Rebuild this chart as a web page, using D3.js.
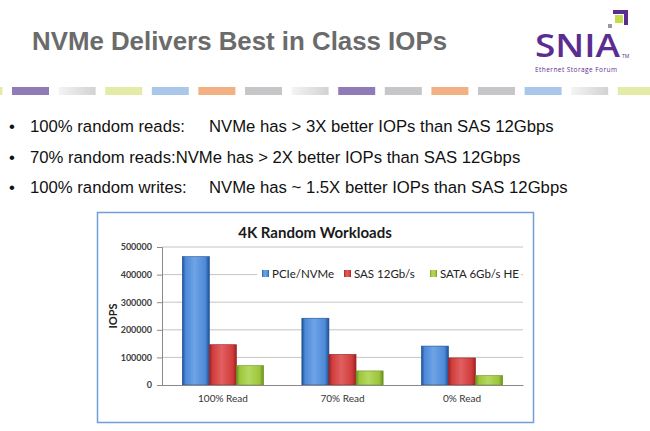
<!DOCTYPE html>
<html>
<head>
<meta charset="utf-8">
<script src="https://cdn.jsdelivr.net/npm/d3@7"></script>
<style>
  body { margin: 0; background: #fff; }
  svg { display: block; }
</style>
</head>
<body>
<div id="chartContainer"></div>
<script>
// Chart data
const categories = ["100% Read", "70% Read", "0% Read"];
const seriesNames = ["PCIe/NVMe", "SAS 12Gb/s", "SATA 6Gb/s HE"];
const nvmeValues = [465000, 242000, 141000];
const sasValues = [146000, 111000, 98000];
const sataValues = [70000, 51000, 34000];
const yTicks = [0, 100000, 200000, 300000, 400000, 500000];

// Slide text
const bulletLeft = ["100% random reads:", "70% random reads:NVMe has > 2X better IOPs than SAS 12Gbps", "100% random writes:"];
const bulletRight = ["NVMe has > 3X better IOPs than SAS 12Gbps", "", "NVMe has ~ 1.5X better IOPs than SAS 12Gbps"];
const dashColors = ["#e3eba6", "#8f7bb6", "light", "#e3eba6", "#a9c8e9", "#f2b183", "#c6c6c8", "light", "#8f7bb6", "#c6c6c8", "#f2b183", "#c6c6c8", "#a9c8e9", "light", "#e3eba6"];

const W = 650, H = 431;
const svg = d3.select("#chartContainer")
  .append("svg")
  .attr("width", W)
  .attr("height", H);

const defs = svg.append("defs");

// gradients for the 3D-ish bars
const barColors = [
  { id: "gBlue", dark: "#1f4f93", mid: "#4d8ad8", light: "#6ea3e6" },
  { id: "gRed", dark: "#9b2222", mid: "#d23c3c", light: "#e06060" },
  { id: "gGreen", dark: "#6a8f1e", mid: "#9cc63a", light: "#b5d860" }
];
barColors.forEach(c => {
  const g = defs.append("linearGradient").attr("id", c.id)
    .attr("x1", "0%").attr("x2", "100%").attr("y1", "0%").attr("y2", "0%");
  g.append("stop").attr("offset", "0%").attr("stop-color", c.dark);
  g.append("stop").attr("offset", "12%").attr("stop-color", c.mid);
  g.append("stop").attr("offset", "45%").attr("stop-color", c.light);
  g.append("stop").attr("offset", "85%").attr("stop-color", c.mid);
  g.append("stop").attr("offset", "100%").attr("stop-color", c.dark);
});
const lg = defs.append("linearGradient").attr("id", "gLight")
  .attr("x1", "0%").attr("x2", "100%");
lg.append("stop").attr("offset", "0%").attr("stop-color", "#f4f4f4");
lg.append("stop").attr("offset", "100%").attr("stop-color", "#d2d2d2");

// Slide title
svg.append("text")
  .attr("x", 32)
  .attr("y", 50)
  .attr("font-family", "Liberation Sans, Arial, sans-serif")
  .attr("font-weight", "bold")
  .attr("font-size", 26)
  .attr("textLength", 415)
  .attr("lengthAdjust", "spacingAndGlyphs")
  .attr("fill", "#6b6b6b")
  .text("NVMe Delivers Best in Class IOPs");

// SNIA logo
const logo = svg.append("g");
logo.append("rect").attr("x", 613).attr("y", 10).attr("width", 15).attr("height", 4).attr("fill", "#5c2d91");
logo.append("rect").attr("x", 624).attr("y", 10).attr("width", 4).attr("height", 15).attr("fill", "#5c2d91");
logo.append("rect").attr("x", 615).attr("y", 15).attr("width", 8).attr("height", 8).attr("fill", "#c3dc4a");
logo.append("rect").attr("x", 608).attr("y", 24).attr("width", 4).attr("height", 4).attr("fill", "#9a9a9a");
logo.append("text")
  .attr("x", 535).attr("y", 57)
  .attr("font-family", "Open Sans, sans-serif")
  .attr("font-weight", 600)
  .attr("font-size", 32)
  .attr("textLength", 85)
  .attr("lengthAdjust", "spacingAndGlyphs")
  .attr("fill", "#5c2d91")
  .text("SNIA");
logo.append("text")
  .attr("x", 622).attr("y", 58)
  .attr("font-family", "Open Sans, sans-serif")
  .attr("font-size", 5)
  .attr("fill", "#5c2d91")
  .text("TM");
logo.append("text")
  .attr("x", 535).attr("y", 72)
  .attr("font-family", "Open Sans, sans-serif")
  .attr("font-size", 6.5)
  .attr("textLength", 82)
  .attr("fill", "#5c2d91")
  .text("Ethernet Storage Forum");

// Decorative dash row
svg.append("g")
  .selectAll("rect")
  .data(dashColors)
  .enter()
  .append("rect")
  .attr("x", (d, i) => -34.6 + i * 46.6)
  .attr("y", 87)
  .attr("width", 37)
  .attr("height", 8)
  .attr("fill", d => d === "light" ? "url(#gLight)" : d);

// Bullets
const bullets = svg.append("g")
  .attr("font-family", "Liberation Sans, Arial, sans-serif")
  .attr("font-size", 16.7)
  .attr("fill", "#111");
bulletLeft.forEach((t, i) => {
  const y = 132 + i * 30.5;
  bullets.append("text").attr("x", 9).attr("y", y).text("•");
  bullets.append("text").attr("x", 30).attr("y", y).text(t);
  if (bulletRight[i]) bullets.append("text").attr("x", 209).attr("y", y).text(bulletRight[i]);
});

// Chart frame
svg.append("rect")
  .attr("x", 97.5).attr("y", 212.5)
  .attr("width", 436).attr("height", 210)
  .attr("fill", "#fff")
  .attr("stroke", "#6f9fd4")
  .attr("stroke-width", 1.5);

const margin = { top: 247, left: 162, right: 523, bottom: 385 };
const chart = svg.append("g");

const x0 = d3.scaleBand()
  .domain(categories)
  .range([margin.left, margin.right])
  .paddingInner(0.32)
  .paddingOuter(0.17);
const x1 = d3.scaleBand()
  .domain(seriesNames)
  .range([0, x0.bandwidth()]);
const y = d3.scaleLinear()
  .domain([0, 500000])
  .range([margin.bottom, margin.top]);

// gridlines
chart.append("g")
  .selectAll("line")
  .data(yTicks.slice(1))
  .enter()
  .append("line")
  .attr("x1", margin.left)
  .attr("x2", margin.right)
  .attr("y1", d => y(d))
  .attr("y2", d => y(d))
  .attr("stroke", "#c4c4c4")
  .attr("stroke-width", 1);

// y axis
const yAxis = chart.append("g")
  .attr("transform", `translate(${margin.left},0)`)
  .call(d3.axisLeft(y).tickValues(yTicks).tickSize(5).tickPadding(5).tickFormat(d3.format("d")));
yAxis.select(".domain").attr("stroke", "#8a8a8a");
yAxis.selectAll(".tick line").attr("stroke", "#8a8a8a");
yAxis.selectAll("text")
  .attr("font-family", "Lato, sans-serif")
  .attr("font-weight", "bold")
  .attr("font-size", 9)
  .attr("fill", "#404040");

// bars
const series = [nvmeValues, sasValues, sataValues];
const fills = ["url(#gBlue)", "url(#gRed)", "url(#gGreen)"];
const groups = chart.selectAll(".grp")
  .data(categories)
  .enter()
  .append("g")
  .attr("class", "grp")
  .attr("transform", d => `translate(${x0(d)},0)`);
groups.selectAll("rect")
  .data((d, ci) => seriesNames.map((s, si) => ({ s, si, v: series[si][ci] })))
  .enter()
  .append("rect")
  .attr("x", d => x1(d.s))
  .attr("y", d => y(d.v))
  .attr("width", x1.bandwidth())
  .attr("height", d => y(0) - y(d.v))
  .attr("fill", d => fills[d.si])
  .attr("stroke", d => barColors[d.si].dark)
  .attr("stroke-width", 0.6);

// x axis
const xAxis = chart.append("g")
  .attr("transform", `translate(0,${margin.bottom})`)
  .call(d3.axisBottom(x0).tickSize(0).tickPadding(10));
xAxis.select(".domain").attr("stroke", "#8a8a8a");
xAxis.selectAll("text")
  .attr("font-family", "Lato, sans-serif")
  .attr("font-size", 10)
  .attr("fill", "#333");

// y title
chart.append("text")
  .attr("transform", `translate(117,${(margin.top + margin.bottom) / 2}) rotate(-90)`)
  .attr("text-anchor", "middle")
  .attr("font-family", "Lato, sans-serif")
  .attr("font-weight", "bold")
  .attr("font-size", 11)
  .attr("fill", "#222")
  .text("IOPS");

// chart title
chart.append("text")
  .attr("x", 315)
  .attr("y", 238)
  .attr("text-anchor", "middle")
  .attr("font-family", "Lato, sans-serif")
  .attr("font-weight", "bold")
  .attr("font-size", 15)
  .attr("fill", "#1a1a1a")
  .text("4K Random Workloads");

// legend (white box covering the gridline)
const legend = chart.append("g");
legend.append("rect")
  .attr("x", 257).attr("y", 263)
  .attr("width", 264).attr("height", 21)
  .attr("fill", "#fff");
const legendX = [262, 344, 430];
seriesNames.forEach((s, i) => {
  legend.append("rect")
    .attr("x", legendX[i]).attr("y", 270)
    .attr("width", 7).attr("height", 7)
    .attr("fill", fills[i]);
  legend.append("text")
    .attr("x", legendX[i] + 10).attr("y", 277.5)
    .attr("font-family", "Lato, sans-serif")
    .attr("font-size", 11.5)
    .attr("fill", "#222")
    .text(s);
});
</script>
</body>
</html>
